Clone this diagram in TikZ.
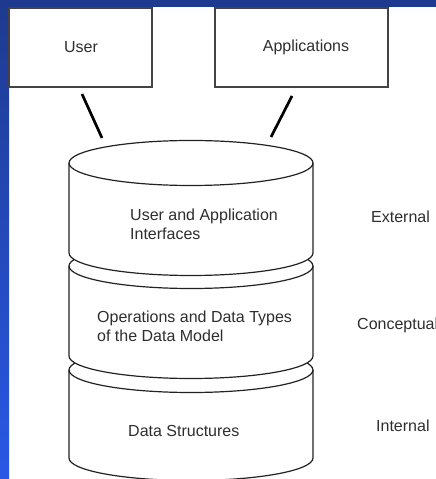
\documentclass[tikz,border=0pt]{standalone}
\usepackage{fontspec}
\setmainfont{Liberation Sans}
\definecolor{navy}{HTML}{1E3A8F}
\definecolor{brightblue}{HTML}{2A58E6}
\definecolor{txt}{HTML}{2E2E2E}
\definecolor{edge}{HTML}{222222}
\begin{document}
\begin{tikzpicture}[x=1pt,y=1pt,
  lbl/.style={font=\fontsize{16}{19}\selectfont, text=txt, inner sep=0pt, anchor=base west, align=left},
  topbox/.style={draw=edge!85, line width=1.2pt, fill=white, minimum width=#1, minimum height=79pt, inner sep=0pt},
  layer/.style={draw=edge, line width=1.2pt, fill=white},
  link/.style={draw=black, line width=2.7pt}]
\useasboundingbox (0,0) rectangle (436,479);
\clip (0,0) rectangle (436,479);
\fill[white] (0,0) rectangle (436,479);
% blue frame
\shade[top color=navy, bottom color=brightblue] (0,0) rectangle (9,479);
\fill[navy] (0,472) rectangle (436,479);
% boxes
\node[topbox=143pt] (user) at (80.5,431.5) {};
\node[lbl, anchor=center] (usertxt) at (81,432) {User};
\node[topbox=173pt] (apps) at (301.5,431.5) {};
\node[lbl, anchor=center] (appstxt) at (306,432) {Applications};
% cylinder layers (bottom to top)
\foreach \yt/\yb in {109/21, 213/123, 316/226}{
  \path[layer] (69,\yt) -- (69,\yb) arc[start angle=180, end angle=360, x radius=122, y radius=22.5]
     -- (313,\yt) arc[start angle=0, end angle=180, x radius=122, y radius=22.5] -- cycle;
  \draw[layer, fill=none] (69,\yt) arc[start angle=180, end angle=360, x radius=122, y radius=22.5];
}
% connectors
\coordinate (u1) at (82,385);
\coordinate (u2) at (102,341);
\coordinate (a1) at (292,383);
\coordinate (a2) at (271,342);
\draw[link] (u1) -- (u2);
\draw[link] (a1) -- (a2);
% layer texts
\node[lbl] (ext) at (130,239) {User and Application\\Interfaces};
\node[lbl] (conc) at (97,137) {Operations and Data Types\\of the Data Model};
\node[lbl] (intl) at (128,42) {Data Structures};
% level labels
\node[lbl] (lext) at (371,256) {External};
\node[lbl] (lconc) at (357,149) {Conceptual};
\node[lbl] (lint) at (376,47) {Internal};
\end{tikzpicture}
\end{document}
